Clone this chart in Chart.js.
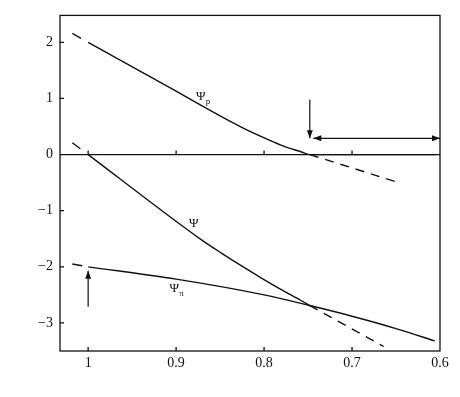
<!DOCTYPE html>
<html>
<head>
<meta charset="utf-8">
<script src="https://cdn.jsdelivr.net/npm/chart.js@4"></script>
<style>
  html, body { margin: 0; padding: 0; background: #fff; }
  canvas { display: block; }
</style>
</head>
<body>
<canvas id="c" width="460" height="397"></canvas>
<script>
// relative volume (x) and potentials (MPa)
const psiPx = [1.0, 0.9, 0.872, 0.849, 0.826, 0.803, 0.781, 0.758, 0.748, 0.7, 0.605];
const psiPy = [2.0, 1.13, 0.88, 0.68, 0.49, 0.32, 0.17, 0.05, 0, 0, 0];

const psiX = [1.0, 0.894, 0.872, 0.849, 0.826, 0.803, 0.781, 0.758, 0.748];
const psiY = [0, -1.26, -1.51, -1.75, -1.98, -2.2, -2.4, -2.6, -2.69];

const psiPiX = [1.0, 0.9, 0.8, 0.748, 0.7, 0.65, 0.606];
const psiPiY = [-2.0, -2.22, -2.5, -2.69, -2.88, -3.1, -3.32];

// dashed extrapolations
const dashPL = { x: [1.018, 1.0], y: [2.16, 2.0] };
const dashL = { x: [1.018, 1.0], y: [0.21, 0] };
const dashPiL = { x: [1.018, 1.0], y: [-1.95, -2.0] };
const dashPR = { x: [0.748, 0.647], y: [0, -0.50] };
const dashR = { x: [0.748, 0.664], y: [-2.69, -3.42] };

// arrows [x1, y1, x2, y2, heads]
const arrows = [
  [0.748, 0.98, 0.748, 0.29, 'end'],
  [0.744, 0.29, 0.600, 0.29, 'both'],
  [1.0, -2.71, 1.0, -2.07, 'end'],
];

// curve labels [x, y, sub]
const labels = [
  [0.872, 1.03, 'p'],
  [0.880, -1.23, ''],
  [0.902, -2.38, 'π'],
];

const xTicks = [1, 0.9, 0.8, 0.7, 0.6];
const yTicks = [-3, -2, -1, 0, 1, 2];

const K = '#111';
const FONT = '"Liberation Serif", "DejaVu Serif", serif';

const pts = (xs, ys) => xs.map((x, i) => ({ x, y: ys[i] }));
const solid = data => ({ data, borderColor: K, borderWidth: 1.4, pointRadius: 0, showLine: true, cubicInterpolationMode: 'monotone' });
const dashed = (d, dash) => ({ data: pts(d.x, d.y), borderColor: K, borderWidth: 1.4, pointRadius: 0, showLine: true, borderDash: dash });

function head(ctx, x1, y1, x2, y2) {
  const a = Math.atan2(y2 - y1, x2 - x1), L = 8, W = 3;
  ctx.beginPath();
  ctx.moveTo(x2, y2);
  ctx.lineTo(x2 - L * Math.cos(a) + W * Math.sin(a), y2 - L * Math.sin(a) - W * Math.cos(a));
  ctx.lineTo(x2 - L * Math.cos(a) - W * Math.sin(a), y2 - L * Math.sin(a) + W * Math.cos(a));
  ctx.closePath();
  ctx.fill();
}

const frame = {
  id: 'frame',
  afterDatasetsDraw(chart) {
    const { ctx, chartArea: a, scales: { x, y } } = chart;
    ctx.save();
    ctx.strokeStyle = K; ctx.fillStyle = K; ctx.lineWidth = 1.3;
    ctx.strokeRect(a.left, a.top, a.right - a.left, a.bottom - a.top);
    const y0 = y.getPixelForValue(0);
    ctx.beginPath();
    ctx.moveTo(a.left, y0); ctx.lineTo(a.right, y0);
    yTicks.forEach(v => { const p = y.getPixelForValue(v); ctx.moveTo(a.left, p); ctx.lineTo(a.left + 4, p); });
    xTicks.slice(0, 4).forEach(v => {
      const p = x.getPixelForValue(v);
      ctx.moveTo(p, a.bottom); ctx.lineTo(p, a.bottom - 4);
      ctx.moveTo(p, y0); ctx.lineTo(p, y0 - 4);
    });
    ctx.stroke();

    ctx.lineWidth = 1.2;
    arrows.forEach(([x1, y1, x2, y2, h]) => {
      const p1 = [x.getPixelForValue(x1), y.getPixelForValue(y1)];
      const p2 = [x.getPixelForValue(x2), y.getPixelForValue(y2)];
      ctx.beginPath(); ctx.moveTo(p1[0], p1[1]); ctx.lineTo(p2[0], p2[1]); ctx.stroke();
      head(ctx, p1[0], p1[1], p2[0], p2[1]);
      if (h === 'both') head(ctx, p2[0], p2[1], p1[0], p1[1]);
    });

    ctx.textBaseline = 'middle';
    labels.forEach(([lx, ly, sub]) => {
      const px = x.getPixelForValue(lx), py = y.getPixelForValue(ly);
      ctx.font = '13px ' + FONT;
      ctx.textAlign = 'center';
      ctx.fillText('Ψ', px, py);
      if (sub) {
        ctx.font = '9px ' + FONT;
        ctx.textAlign = 'left';
        ctx.fillText(sub, px + 5, py + 5);
      }
    });
    ctx.restore();
  }
};

new Chart(document.getElementById('c'), {
  type: 'scatter',
  data: {
    datasets: [
      solid(pts(psiPx, psiPy)),
      solid(pts(psiX, psiY)),
      solid(pts(psiPiX, psiPiY)),
      dashed(dashPL, [10, 30]),
      dashed(dashL, [10, 30]),
      dashed(dashPiL, [10, 30]),
      dashed(dashPR, [9, 7]),
      dashed(dashR, [9, 7]),
    ]
  },
  options: {
    responsive: false,
    animation: false,
    layout: { padding: { top: 13, right: 20, left: 0, bottom: 0 } },
    plugins: { legend: { display: false }, tooltip: { enabled: false } },
    scales: {
      x: {
        type: 'linear', reverse: true, min: 0.6, max: 1.032,
        grid: { display: false, drawTicks: false }, border: { display: false },
        afterBuildTicks: s => { s.ticks = xTicks.map(value => ({ value })); },
        afterFit: s => { s.height = 46; },
        ticks: { color: K, padding: 4, font: { family: FONT, size: 14 }, callback: v => String(v) }
      },
      y: {
        min: -3.5, max: 2.48,
        grid: { display: false, drawTicks: false }, border: { display: false },
        afterBuildTicks: s => { s.ticks = yTicks.map(value => ({ value })); },
        afterFit: s => { s.width = 60; },
        ticks: { color: K, padding: 7, font: { family: FONT, size: 14 }, callback: v => String(v).replace('-', '−') }
      }
    }
  },
  plugins: [frame]
});
</script>
</body>
</html>
